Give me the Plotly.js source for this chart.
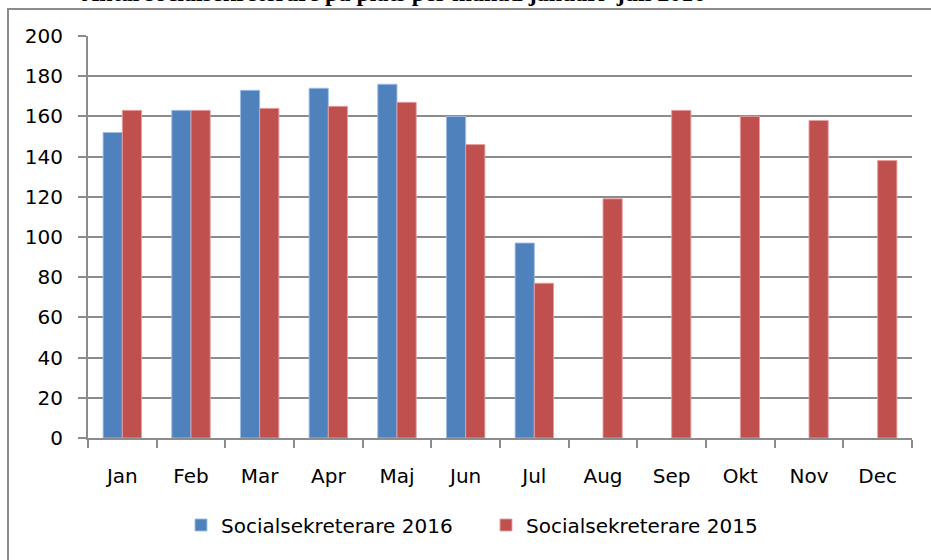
<!DOCTYPE html>
<html>
<head>
<meta charset="utf-8">
<script src="https://cdn.plot.ly/plotly-3.0.1.min.js"></script>
<style>html,body{margin:0;padding:0;background:#fff;overflow:hidden}</style>
</head>
<body>
<div id="chart" style="width:931px;height:560px"></div>
<script>
const months = ["Jan","Feb","Mar","Apr","Maj","Jun","Jul","Aug","Sep","Okt","Nov","Dec"];
const series2016Name = "Socialsekreterare 2016";
const series2015Name = "Socialsekreterare 2015";
const values2016 = [152, 163, 173, 174, 176, 160, 97, null, null, null, null, null];
const values2015 = [163, 163, 164, 165, 167, 146, 77, 119, 163, 160, 158, 138];
const yTicks = [0, 20, 40, 60, 80, 100, 120, 140, 160, 180, 200];
const titleText = "Antal socialsekreterare på plats per månad januari–juli 2016";

const W = 931, H = 560;
const L = 88, R = 19, T = 36, B = 122;
const pw = W - L - R, ph = H - T - B;
const px = x => (x - L) / pw;
const py = y => (H - B - y) / ph;

const font = {family: "DejaVu Sans", size: 20, color: "#000"};

const traces = [
  {type: "bar", name: series2016Name, x: months, y: values2016,
   marker: {color: "#4F81BD", line: {color: "rgba(160,190,230,0.9)", width: 1}}},
  {type: "bar", name: series2015Name, x: months, y: values2015,
   marker: {color: "#C0504D", line: {color: "rgba(230,160,160,0.9)", width: 1}}}
];

const layout = {
  width: W, height: H,
  margin: {l: L, r: R, t: T, b: B, pad: 0},
  paper_bgcolor: "#fff", plot_bgcolor: "#fff",
  font: font,
  barmode: "group", bargap: 0.44, bargroupgap: 0,
  showlegend: true,
  legend: {orientation: "h", x: px(181), xanchor: "left", y: py(525), yanchor: "middle",
           font: font, entrywidth: 260, entrywidthmode: "pixels", itemwidth: 30,
           traceorder: "normal", bgcolor: "rgba(0,0,0,0)"},
  xaxis: {type: "category", categoryorder: "array", categoryarray: months,
          showgrid: false, showline: true, linecolor: "#8c8c8c", linewidth: 2,
          ticks: "outside", tickson: "boundaries", ticklen: 8, tickcolor: "#8c8c8c", tickwidth: 2,
          tickfont: font, ticklabelstandoff: 19, fixedrange: true},
  yaxis: {range: [0, 200], tickvals: yTicks, ticktext: yTicks.map(String),
          showgrid: true, gridcolor: "#8c8c8c", gridwidth: 2, zeroline: false,
          showline: true, linecolor: "#8c8c8c", linewidth: 2,
          ticks: "outside", ticklen: 8, tickcolor: "#8c8c8c", tickwidth: 2,
          tickfont: font, ticklabelstandoff: 11, fixedrange: true},
  shapes: [
    {type: "rect", xref: "paper", yref: "paper",
     x0: px(8), x1: px(945), y0: py(575), y1: py(9),
     line: {color: "#8c8c8c", width: 2}, fillcolor: "rgba(0,0,0,0)", layer: "below"}
  ],
  annotations: [
    {text: "<b>" + titleText + "</b>", xref: "paper", yref: "paper",
     x: px(80), xanchor: "left", y: py(8.5), yanchor: "bottom", showarrow: false,
     font: {family: "Liberation Serif", size: 24, color: "#000"}}
  ]
};

Plotly.newPlot("chart", traces, layout, {displayModeBar: false, staticPlot: true});
</script>
</body>
</html>
